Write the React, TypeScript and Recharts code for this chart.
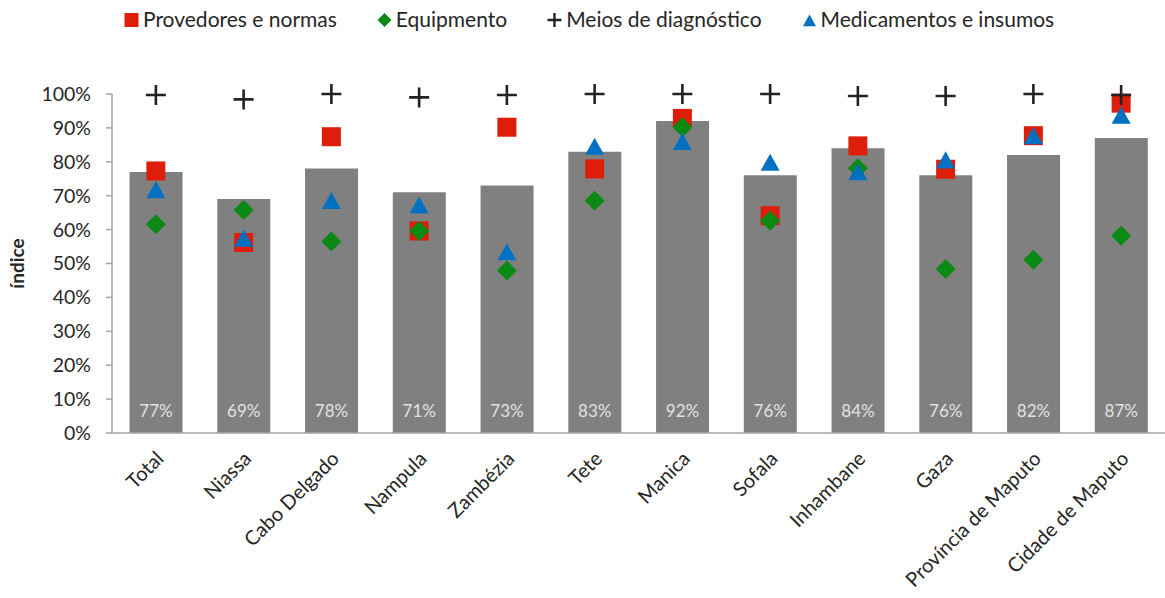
import React from 'react'
import { ComposedChart, Bar, Line, XAxis, YAxis, LabelList } from 'recharts'

const categories = [
  'Total',
  'Niassa',
  'Cabo Delgado',
  'Nampula',
  'Zambézia',
  'Tete',
  'Manica',
  'Sofala',
  'Inhambane',
  'Gaza',
  'Província de Maputo',
  'Cidade de Maputo',
]
const indice = [77, 69, 78, 71, 73, 83, 92, 76, 84, 76, 82, 87]
const provedores = [77.3, 56.2, 87.4, 59.6, 90.2, 77.9, 92.8, 64.1, 84.7, 77.8, 87.7, 97.3]
const equipamento = [61.6, 65.8, 56.5, 59.6, 47.9, 68.5, 90.2, 62.6, 78.1, 48.4, 51.1, 58.2]
const meios = [99.7, 98.4, 100, 99, 99.7, 100, 100, 100, 99.4, 99.4, 100, 99.7]
const medicamentos = [71.5, 57.2, 68.3, 67, 53.2, 84.3, 85.7, 79.6, 76.8, 80.3, 87.4, 93.5]
const yTicks = [0, 10, 20, 30, 40, 50, 60, 70, 80, 90, 100]

const legendItems = [
  { key: 'provedores', label: 'Provedores e normas', color: '#dc1e0a' },
  { key: 'equipamento', label: 'Equipmento', color: '#0a8a14' },
  { key: 'meios', label: 'Meios de diagnóstico', color: '#222222' },
  { key: 'medicamentos', label: 'Medicamentos e insumos', color: '#0070c0' },
]

const data = categories.map((name, i) => ({
  name,
  indice: indice[i],
  provedores: provedores[i],
  equipamento: equipamento[i],
  meios: meios[i],
  medicamentos: medicamentos[i],
}))

const FONT = 'Lato, "Open Sans", sans-serif'

// marker shapes (Excel-ish)
const Square = ({ cx, cy, color, s = 19 }: any) => (
  <rect x={cx - s / 2} y={cy - s / 2} width={s} height={s} fill={color} />
)
const Diamond = ({ cx, cy, color, s = 10 }: any) => (
  <polygon points={`${cx},${cy - s} ${cx + s},${cy} ${cx},${cy + s} ${cx - s},${cy}`} fill={color} />
)
const Plus = ({ cx, cy, color, s = 10, w = 2.6 }: any) => (
  <path d={`M${cx - s},${cy}H${cx + s}M${cx},${cy - s}V${cy + s}`} stroke={color} strokeWidth={w} fill="none" />
)
const Triangle = ({ cx, cy, color, s = 19 }: any) => (
  <polygon
    points={`${cx},${cy - s * 0.5} ${cx + s / 2},${cy + s * 0.4} ${cx - s / 2},${cy + s * 0.4}`}
    fill={color}
  />
)

const markerFor = (key: string, color: string) => {
  const Shape = key === 'provedores' ? Square : key === 'equipamento' ? Diamond : key === 'meios' ? Plus : Triangle
  return (props: any) => {
    const { cx, cy, index } = props
    if (cx == null || cy == null) return <g key={`${key}-${index}`} />
    return (
      <g key={`${key}-${index}`}>
        <Shape cx={cx} cy={cy} color={color} />
      </g>
    )
  }
}

const LegendIcon = ({ k, color }: { k: string; color: string }) => (
  <svg width={15} height={16} style={{ marginRight: 4, marginTop: 3 }}>
    {k === 'provedores' && <Square cx={7.5} cy={8} color={color} s={14} />}
    {k === 'equipamento' && <Diamond cx={7.5} cy={8} color={color} s={7} />}
    {k === 'meios' && <Plus cx={7.5} cy={8} color={color} s={7} w={2.4} />}
    {k === 'medicamentos' && <Triangle cx={7.5} cy={9} color={color} s={13} />}
  </svg>
)

const XTick = ({ x, y, payload }: any) => (
  <g transform={`translate(${x + 4},${y + 22})`}>
    <text
      x={0}
      y={0}
      dy="0.35em"
      textAnchor="end"
      transform="rotate(-45)"
      fontFamily={FONT}
      fontSize={20}
      fill="#262626"
    >
      {payload.value}
    </text>
  </g>
)

const YLabel = ({ viewBox }: any) => {
  const cy = viewBox.y + viewBox.height / 2
  return (
    <text
      x={24}
      y={cy}
      transform={`rotate(-90, 24, ${cy})`}
      textAnchor="middle"
      fontFamily={FONT}
      fontSize={19}
      fontWeight="bold"
      fill="#262626"
    >
      índice
    </text>
  )
}

const BarValue = (props: any) => {
  const { x, y, width, height, value } = props
  return (
    <text
      x={x + width / 2}
      y={y + height - 16}
      textAnchor="middle"
      fontFamily={FONT}
      fontSize={17}
      fill="#e2e2e2"
    >
      {value}%
    </text>
  )
}

export default function App() {
  return (
    <div style={{ position: 'absolute', left: 0, top: 0, width: 1165, height: 598, background: '#fff' }}>
      <div
        style={{
          position: 'absolute',
          top: 6,
          left: 124,
          display: 'flex',
          alignItems: 'center',
          fontFamily: FONT,
          fontSize: 21,
          lineHeight: 1.2,
          color: '#262626',
          whiteSpace: 'nowrap',
        }}
      >
        {legendItems.map((it, i) => (
          <div key={it.key} style={{ display: 'flex', alignItems: 'center', marginLeft: i === 0 ? 0 : 40 }}>
            <LegendIcon k={it.key} color={it.color} />
            <span>{it.label}</span>
          </div>
        ))}
      </div>
      <ComposedChart
        width={1165}
        height={598}
        data={data}
        margin={{ top: 94, right: 0, bottom: 0, left: 0 }}
        barCategoryGap="20%"
      >
        <XAxis
          dataKey="name"
          interval={0}
          height={165}
          tickLine={false}
          tickSize={0}
          tickMargin={0}
          axisLine={{ stroke: '#a6a6a6', strokeWidth: 1.5 }}
          tick={<XTick />}
        />
        <YAxis
          width={112}
          domain={[0, 100]}
          ticks={yTicks}
          interval={0}
          tickFormatter={(v: number) => `${v}%`}
          tickSize={6}
          tickMargin={15}
          axisLine={{ stroke: '#a6a6a6', strokeWidth: 1.5 }}
          tickLine={{ stroke: '#a6a6a6', strokeWidth: 1.5 }}
          tick={{ fontFamily: FONT, fontSize: 19.5, fill: '#262626' }}
          label={<YLabel />}
        />
        <Bar dataKey="indice" fill="#808080" isAnimationActive={false}>
          <LabelList dataKey="indice" content={<BarValue />} />
        </Bar>
        {legendItems.map((it) => (
          <Line
            key={it.key}
            dataKey={it.key}
            stroke="none"
            dot={markerFor(it.key, it.color)}
            activeDot={false}
            isAnimationActive={false}
          />
        ))}
      </ComposedChart>
    </div>
  )
}
